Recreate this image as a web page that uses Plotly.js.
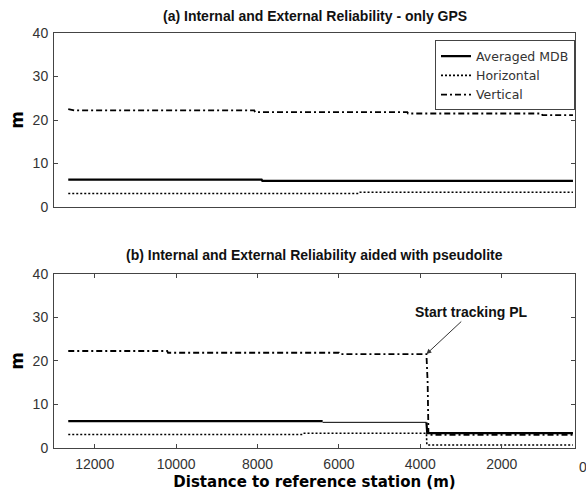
<!DOCTYPE html>
<html>
<head>
<meta charset="utf-8">
<script src="https://cdn.plot.ly/plotly-3.0.1.min.js"></script>
<style>html,body{margin:0;padding:0;background:#fff;}#chart{width:586px;height:497px;}</style>
</head>
<body>
<div id="chart"></div>
<script>
// ---- data (distance to reference station in m, values in m) ----
const mdbAx = [12650, 7900, 7880, 250];
const mdbAy = [6.3, 6.3, 6.0, 6.0];
const horAx = [12650, 5500, 5480, 250];
const horAy = [3.1, 3.1, 3.4, 3.4];
const verAx = [12650, 12550, 12500, 8080, 8060, 4320, 4300, 1020, 1000, 250];
const verAy = [22.5, 22.4, 22.2, 22.2, 21.8, 21.8, 21.5, 21.5, 21.1, 21.1];

const mdbBx = [12650, 6400, 6400, 3850, 3830, 250];
const mdbBy = [6.2, 6.2, 5.9, 5.9, 3.4, 3.4];
const horBx = [12650, 6900, 6880, 3850, 3840, 250];
const horBy = [3.1, 3.1, 3.4, 3.4, 0.7, 0.7];
const verBx = [12650, 10220, 10200, 6000, 5980, 3850, 3820, 3800, 250];
const verBy = [22.3, 22.3, 21.9, 21.9, 21.6, 21.6, 15.0, 3.0, 3.0];

const xTicks = [12000, 10000, 8000, 6000, 4000, 2000];
const xTickText = ['12000', '10000', '8000', '6000', '4000', '2000'];
const yTicks = [0, 10, 20, 30, 40];
const seriesNames = ['Averaged MDB', 'Horizontal', 'Vertical'];

const dashDot = '6px,3px,2px,3px';
const dotted = '2px,2px';
const tickFont = {family: 'Liberation Sans, Arial, sans-serif', size: 14, color: '#333'};

const traces = [
  {x: mdbAx, y: mdbAy, xaxis: 'x', yaxis: 'y', name: seriesNames[0], mode: 'lines',
   line: {color: '#000', width: 2.2}},
  {x: horAx, y: horAy, xaxis: 'x', yaxis: 'y', name: seriesNames[1], mode: 'lines',
   line: {color: '#000', width: 1.6, dash: dotted}},
  {x: verAx, y: verAy, xaxis: 'x', yaxis: 'y', name: seriesNames[2], mode: 'lines',
   line: {color: '#000', width: 1.8, dash: dashDot}},
  // bottom panel
  {x: mdbBx.slice(0, 2), y: mdbBy.slice(0, 2), xaxis: 'x2', yaxis: 'y2', showlegend: false, mode: 'lines',
   line: {color: '#000', width: 2.2}},
  {x: mdbBx.slice(2, 4), y: mdbBy.slice(2, 4), xaxis: 'x2', yaxis: 'y2', showlegend: false, mode: 'lines',
   line: {color: '#000', width: 1}},
  {x: mdbBx.slice(3), y: mdbBy.slice(3), xaxis: 'x2', yaxis: 'y2', showlegend: false, mode: 'lines',
   line: {color: '#000', width: 2.2}},
  {x: horBx, y: horBy, xaxis: 'x2', yaxis: 'y2', showlegend: false, mode: 'lines',
   line: {color: '#000', width: 1.6, dash: dotted}},
  {x: verBx, y: verBy, xaxis: 'x2', yaxis: 'y2', showlegend: false, mode: 'lines',
   line: {color: '#000', width: 1.8, dash: dashDot}}
];

const axisCommon = {
  showline: true, mirror: 'ticks', linecolor: '#444', linewidth: 1,
  showgrid: false, zeroline: false, ticks: 'inside', ticklen: 4, tickcolor: '#444',
  tickfont: tickFont
};
const yTitleFont = {family: 'DejaVu Sans, sans-serif', size: 17, color: '#000', weight: 'bold'};
const titleFont = {family: 'Liberation Sans, Arial, sans-serif', size: 14, color: '#111', weight: 'bold'};

const layout = {
  width: 586, height: 497,
  margin: {l: 54, r: 11, t: 33, b: 49},
  paper_bgcolor: '#fff', plot_bgcolor: '#fff',
  showlegend: true,
  xaxis: Object.assign({}, axisCommon, {
    domain: [0, 1], anchor: 'y', range: [13000, 200], showticklabels: false, ticks: ''
  }),
  yaxis: Object.assign({}, axisCommon, {
    domain: [0.5807, 1], anchor: 'x', range: [0, 40], tickvals: yTicks, ticklabelstandoff: 2,
    title: {text: 'm', standoff: 4, font: yTitleFont}
  }),
  xaxis2: Object.assign({}, axisCommon, {
    domain: [0, 1], anchor: 'y2', range: [13000, 200], tickvals: xTicks, ticktext: xTickText,
    ticklabelstandoff: 3,
    title: {text: 'Distance to reference station (m)', standoff: 5,
            font: {family: 'DejaVu Sans, sans-serif', size: 15, color: '#000', weight: 'bold'}}
  }),
  yaxis2: Object.assign({}, axisCommon, {
    domain: [0, 0.4193], anchor: 'x2', range: [0, 40], tickvals: yTicks, ticklabelstandoff: 2,
    title: {text: 'm', standoff: 4, font: yTitleFont}
  }),
  legend: {
    x: 1.0, xanchor: 'right', y: 0.982, yanchor: 'top',
    bordercolor: '#444', borderwidth: 1, bgcolor: '#fff',
    font: {family: 'DejaVu Sans, sans-serif', size: 12.5, color: '#333'},
    tracegroupgap: 0, itemwidth: 30
  },
  annotations: [
    {text: '(a) Internal and External Reliability - only GPS', xref: 'paper', yref: 'paper',
     x: 0.5, y: 1.0, yshift: 7, xanchor: 'center', yanchor: 'bottom', showarrow: false,
     font: titleFont},
    {text: '(b) Internal and External Reliability aided with pseudolite', xref: 'paper', yref: 'paper',
     x: 0.5, y: 0.4193, yshift: 9, xanchor: 'center', yanchor: 'bottom', showarrow: false,
     font: titleFont},
    {text: 'Start tracking PL', xref: 'x2', yref: 'y2', x: verBx[5], y: verBy[5],
     showarrow: true, arrowhead: 2, arrowsize: 1, arrowwidth: 1, arrowcolor: '#333',
     ax: 45, ay: -42,
     font: {family: 'Liberation Sans, Arial, sans-serif', size: 14, color: '#111', weight: 'bold'}},
    {text: '0', xref: 'paper', yref: 'paper', x: 1.0154, y: 0, yshift: -9,
     xanchor: 'center', yanchor: 'top', showarrow: false,
     font: tickFont}
  ]
};

Plotly.newPlot('chart', traces, layout, {displayModeBar: false, staticPlot: true});
</script>
</body>
</html>
